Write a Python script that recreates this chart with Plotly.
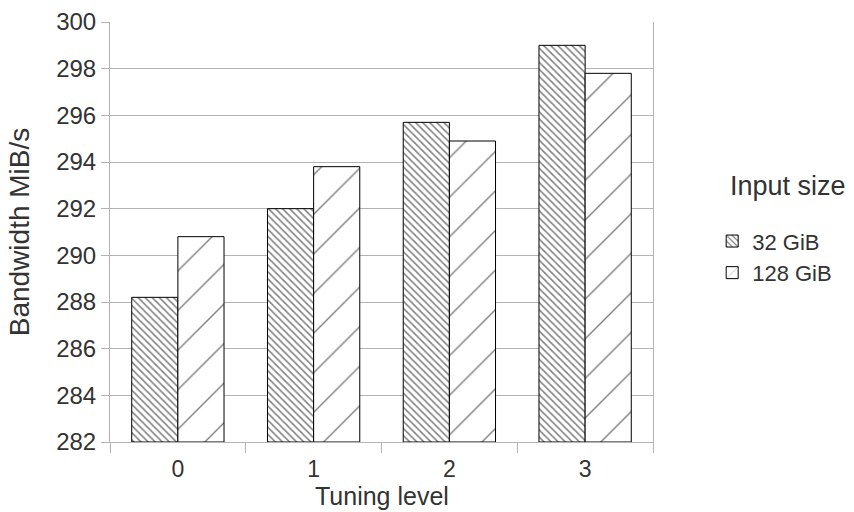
import plotly.graph_objects as go

levels = ["0", "1", "2", "3"]
bw_32 = [288.2, 292.0, 295.7, 299.0]
bw_128 = [290.8, 293.8, 294.9, 297.8]
series_names = ["32 GiB", "128 GiB"]
y_ticks = [282, 284, 286, 288, 290, 292, 294, 296, 298, 300]

FONT = "Liberation Sans, Arial, sans-serif"
TXT = "#333333"
GRID = "#b3b3b3"

fig = go.Figure()
fig.add_trace(go.Bar(
    x=levels, y=[v - 282 for v in bw_32], base=282, name=series_names[0],
    marker=dict(color="white", line=dict(color="#000000", width=1),
                pattern=dict(shape="\\", size=5, solidity=0.3,
                             fgcolor="#000000", bgcolor="white")),
))
fig.add_trace(go.Bar(
    x=levels, y=[v - 282 for v in bw_128], base=282, name=series_names[1],
    marker=dict(color="white", line=dict(color="#000000", width=1),
                pattern=dict(shape="/", size=28, solidity=0.05,
                             fgcolor="#000000", bgcolor="white")),
))

fig.update_layout(
    width=854, height=512,
    margin=dict(l=110, r=201, t=22, b=70),
    paper_bgcolor="white", plot_bgcolor="white",
    barmode="group", bargap=0.32, bargroupgap=0,
    font=dict(family=FONT, color=TXT, size=22),
    showlegend=True,
    legend=dict(x=1.109, y=0.528, xanchor="left", yanchor="top",
                font=dict(size=22, color=TXT), tracegroupgap=0,
                bgcolor="rgba(0,0,0,0)"),
    annotations=[
        dict(text="Input size", xref="paper", yref="paper",
             x=1.139, y=0.61, xanchor="left", yanchor="middle",
             showarrow=False, font=dict(size=27, color=TXT)),
        dict(text="Tuning level", xref="paper", yref="paper",
             x=0.5, y=-0.1286, xanchor="center", yanchor="middle",
             showarrow=False, font=dict(size=25, color=TXT)),
    ],
)
fig.update_yaxes(
    range=[282, 300], tickvals=y_ticks, showgrid=True, gridcolor=GRID, gridwidth=1,
    showline=True, linecolor=GRID, linewidth=1, mirror=True,
    ticks="outside", ticklen=8, tickcolor=GRID, zeroline=False, automargin=False,
    tickfont=dict(size=24, color=TXT),
    title=dict(text="Bandwidth MiB/s", font=dict(size=28, color=TXT), standoff=18),
)
fig.update_xaxes(
    showline=True, linecolor=GRID, linewidth=1, automargin=False,
    ticks="outside", ticklen=10, tickcolor=GRID, tickson="boundaries",
    ticklabelstandoff=6,
    showgrid=False, tickfont=dict(size=23, color=TXT),
)

fig.write_html("out.html")
